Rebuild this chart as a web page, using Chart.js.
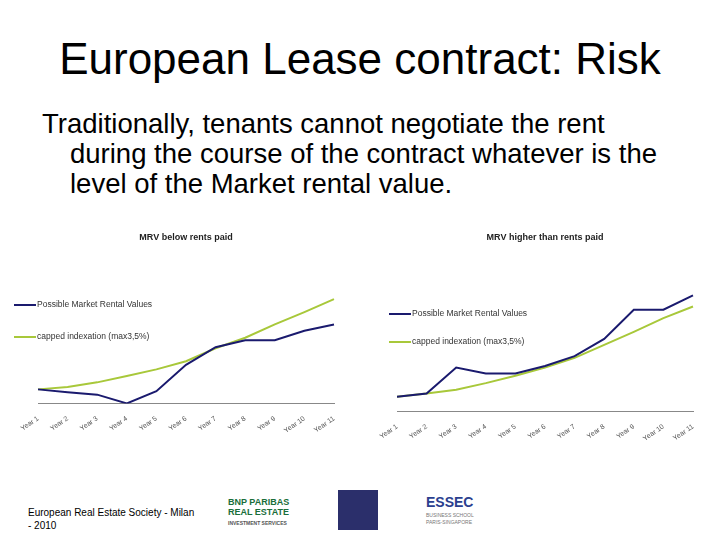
<!DOCTYPE html>
<html>
<head>
<meta charset="utf-8">
<script src="https://cdn.jsdelivr.net/npm/chart.js@4/dist/chart.umd.min.js"></script>
<style>
  body { margin:0; width:720px; height:540px; background:#fff; font-family:"Liberation Sans", Arial, sans-serif; position:relative; overflow:hidden; }
  h1 { position:absolute; top:34px; left:0; width:720px; margin:0; text-align:center; font-weight:normal; font-size:44px; }
  .body { position:absolute; top:109px; left:42px; width:660px; font-size:27.5px; line-height:30px; padding-left:28px; text-indent:-28px; white-space:nowrap; }
  .box { position:absolute; }
  .leg { position:absolute; font-size:8.5px; color:#333; }
  .leg span { display:inline-block; width:22px; height:2px; vertical-align:middle; margin-right:1px; }
  .foot { position:absolute; left:28px; top:506px; font-size:10px; line-height:13px; }
</style>
</head>
<body>
<h1>European Lease contract: Risk</h1>
<div class="body">Traditionally, tenants cannot negotiate the rent<br>during the course of the contract whatever is the<br>level of the Market rental value.</div>

<div class="box" style="left:10px;top:228px;width:340px;height:210px"><canvas id="c1"></canvas></div>
<div class="box" style="left:368px;top:228px;width:345px;height:218px"><canvas id="c2"></canvas></div>

<div class="leg" style="left:14px;top:299px"><span style="background:#1a1a6e"></span>Possible Market Rental Values</div>
<div class="leg" style="left:14px;top:331px"><span style="background:#a8c83a"></span>capped indexation (max3,5%)</div>
<div class="leg" style="left:389px;top:308px"><span style="background:#1a1a6e"></span>Possible Market Rental Values</div>
<div class="leg" style="left:389px;top:336px"><span style="background:#a8c83a"></span>capped indexation (max3,5%)</div>

<div class="foot">European Real Estate Society - Milan<br>- 2010</div>
<div style="position:absolute;left:228px;top:497px;font-size:9px;font-weight:bold;color:#1a6e3a;line-height:10px">BNP PARIBAS<br>REAL ESTATE<br><span style="font-size:5px;color:#555">INVESTMENT SERVICES</span></div>
<div style="position:absolute;left:338px;top:490px;width:40px;height:40px;background:#2b2f6b"></div>
<div style="position:absolute;left:426px;top:494px;font-size:14px;font-weight:bold;color:#2b3f8f;line-height:16px">ESSEC</div>
<div style="position:absolute;left:426px;top:512px;font-size:5px;color:#777;line-height:7px">BUSINESS SCHOOL<br>PARIS-SINGAPORE</div>

<script>
const years = ['Year 1','Year 2','Year 3','Year 4','Year 5','Year 6','Year 7','Year 8','Year 9','Year 10','Year 11'];
const belowMarket = [115,107,100,75,110,185,235,255,255,282,300];
const belowCapped = [115,122,135,153,172,195,232,262,300,335,372];
const higherMarket = [100,110,190,172,172,195,225,278,368,368,412];
const higherCapped = [100,110,122,142,165,190,220,260,300,342,378];

const navy = '#1a1a6e';
const lime = '#a8c83a';

function makeChart(id, title, market, capped, yMin, yMax, padL, padR) {
  new Chart(document.getElementById(id), {
    type: 'line',
    data: {
      labels: years,
      datasets: [
        { label: 'Possible Market Rental Values', data: market, borderColor: navy, borderWidth: 2, pointRadius: 0, tension: 0 },
        { label: 'capped indexation (max3,5%)', data: capped, borderColor: lime, borderWidth: 2, pointRadius: 0, tension: 0 }
      ]
    },
    options: {
      responsive: true,
      maintainAspectRatio: false,
      animation: false,
      layout: { padding: { left: padL, right: padR } },
      plugins: {
        legend: { display: false },
        title: { display: true, text: title, color: '#222', font: { size: 9, weight: 'bold' }, padding: { top: 4, bottom: 50 } }
      },
      scales: {
        x: {
          grid: { display: false, drawTicks: true },
          border: { display: true, color: '#888' },
          ticks: { maxRotation: 35, minRotation: 35, color: '#555', font: { size: 7 } }
        },
        y: { display: false, min: yMin, max: yMax }
      }
    }
  });
}

makeChart('c1', 'MRV below rents paid', belowMarket, belowCapped, 75, 390, 28, 16);
makeChart('c2', 'MRV higher than rents paid', higherMarket, higherCapped, 55, 420, 29, 20);
</script>
</body>
</html>
